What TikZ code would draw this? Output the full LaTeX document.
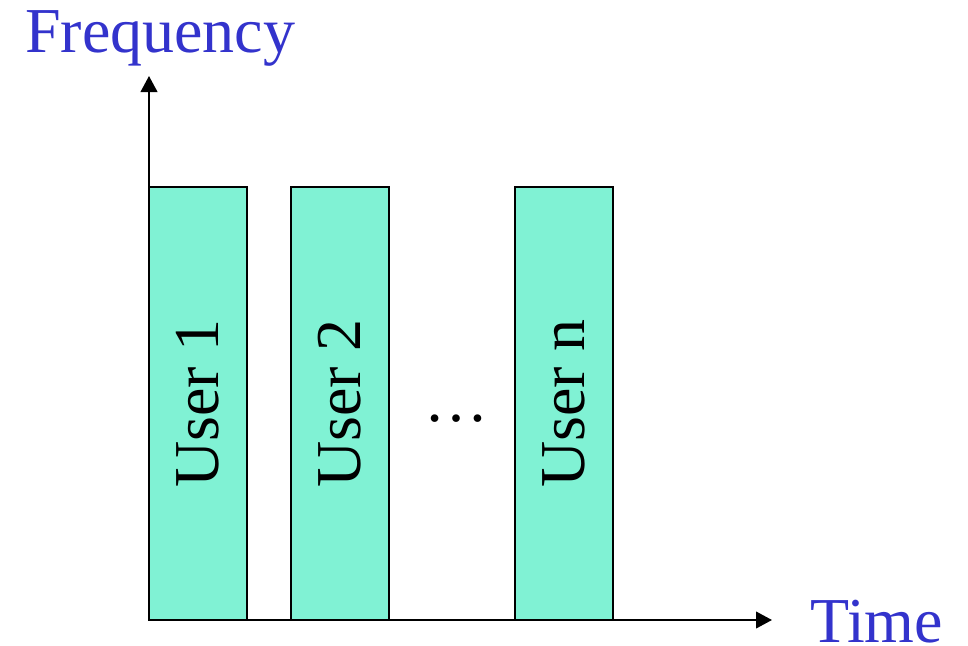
\documentclass[tikz,border=0pt]{standalone}
\usepackage{fontspec}
\setmainfont{Liberation Serif}
\usetikzlibrary{arrows.meta}

\definecolor{slotfill}{RGB}{128,242,212}
\definecolor{axisblue}{RGB}{51,51,204}

\begin{document}
\begin{tikzpicture}[x=0.75pt,y=-0.75pt]
   \tikzstyle{axis}=[line width=1.5pt, -{Triangle[length=12pt,width=12.5pt]}]
   \tikzstyle{slot}=[draw, line width=1.5pt, fill=slotfill, rotate=90, minimum width=324.75pt, minimum height=73.5pt, inner sep=0pt, font=\fontsize{48}{58}\selectfont]
   \tikzstyle{axislabel}=[inner sep=0pt, text=axisblue, font=\fontsize{48}{58}\selectfont]

\useasboundingbox (0,0) rectangle (968,646);

\coordinate (origin) at (149,620);
\coordinate (ytip) at (149,76);
\coordinate (xtip) at (772,620);

\draw[axis] (origin) -- (ytip);
\draw[axis] (origin) -- (xtip);

\node[slot] (user1) at (198,403.5) {User 1};
\node[slot] (user2) at (340,403.5) {User 2};
\node[slot] (usern) at (564,403.5) {User n};
\node[inner sep=0pt, font=\fontsize{48}{58}\selectfont] (dots) at (456,419) {…};

\node[axislabel, anchor=base west] (freq) at (25,52) {Frequency};
\node[axislabel, anchor=base west] (time) at (810,642) {Time};

\end{tikzpicture}
\end{document}
